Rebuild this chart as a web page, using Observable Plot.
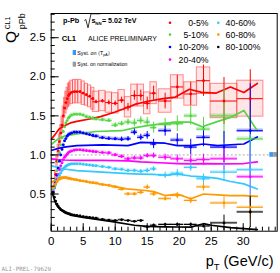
<!DOCTYPE html>
<html><head><meta charset="utf-8">
<script src="https://cdn.jsdelivr.net/npm/d3@7"></script>
<script src="https://cdn.jsdelivr.net/npm/@observablehq/plot@0.6"></script>
<style>body{margin:0;background:#fff}svg{display:block}</style>
</head><body><div id="chart"></div>
<script>
// pT bin centres and half widths (GeV/c)
const pt = [0.3,0.5,0.7,0.9,1.1,1.3,1.5,1.7,1.9,2.1,2.3,2.5,2.7,2.9,3.2,3.6,4.0,
  4.5,5,5.5,6,6.5,7,8,9,10,11,12,13,14,15,16,17.8,19.7,21.8,23.8,27,31.1];
const ptHalf = [0.1,0.1,0.1,0.1,0.1,0.1,0.1,0.1,0.1,0.1,0.1,0.1,0.1,0.1,0.2,0.2,0.2,
  0.25,0.25,0.25,0.25,0.25,0.5,0.5,0.5,0.5,0.5,0.5,0.5,0.5,0.5,0.5,1,1,1,1.05,2.1,2.05];

const centrality = ["0-5%","5-10%","10-20%","20-40%","40-60%","60-80%","80-100%"];
const colors = ["#ff0000","#55d545","#0000ff","#ff00ff","#33c8ff","#ff9900","#000000"];

const q0_5 = [0.52,0.6,0.75,0.92,1.05,1.17,1.28,1.38,1.5,1.6,1.67,1.72,1.76,1.78,1.8,1.81,1.81,
  1.81,1.79,1.77,1.75,1.72,1.68,1.69,1.67,1.66,1.70,1.61,1.76,1.76,1.66,1.79,1.69,1.87,1.78,1.95,1.69,1.72];
const q5_10 = [0.52,0.58,0.68,0.8,0.92,1.03,1.13,1.22,1.3,1.36,1.41,1.44,1.47,1.49,1.51,1.52,1.52,
  1.52,1.51,1.49,1.48,1.47,1.46,1.45,1.44,1.38,1.40,1.42,1.41,1.44,1.42,1.35,1.39,1.40,1.50,1.33,1.50,1.205];
const q10_20 = [0.53,0.58,0.65,0.74,0.83,0.92,1.0,1.07,1.13,1.18,1.21,1.24,1.26,1.27,1.28,1.29,1.29,
  1.29,1.28,1.27,1.26,1.25,1.24,1.22,1.21,1.205,1.20,1.205,1.29,1.225,1.25,1.14,1.31,1.19,1.10,1.225,1.10,1.31];
const q20_40 = [0.55,0.58,0.63,0.69,0.75,0.81,0.86,0.9,0.94,0.97,0.99,1.01,1.03,1.04,1.05,1.06,1.065,
  1.065,1.06,1.055,1.05,1.045,1.04,1.03,1.025,1.0,0.98,0.95,0.96,0.96,0.99,0.99,0.97,0.95,0.93,0.94,0.95,0.72];
const q40_60 = [0.56,0.58,0.62,0.66,0.7,0.74,0.77,0.8,0.82,0.84,0.855,0.865,0.875,0.88,0.885,0.885,0.885,
  0.885,0.88,0.875,0.87,0.865,0.86,0.85,0.84,0.82,0.815,0.80,0.80,0.79,0.80,0.82,0.74,0.765,0.84,0.695,0.78,0.81];
const q60_80 = [0.58,0.6,0.63,0.66,0.68,0.69,0.7,0.705,0.71,0.71,0.71,0.705,0.7,0.7,0.69,0.685,0.68,
  0.67,0.665,0.66,0.65,0.645,0.64,0.62,0.61,0.59,0.56,0.50,0.50,0.52,0.587,0.50,0.44,0.48,0.417,0.59,0.385,0.33];
const q80_100 = [0.52,0.46,0.41,0.37,0.34,0.32,0.3,0.29,0.28,0.27,0.26,0.255,0.25,0.245,0.235,0.23,0.225,
  0.22,0.21,0.205,0.2,0.195,0.19,0.175,0.165,0.16,0.17,0.16,0.15,0.16,0.08,0.10,0.11,0.11,0.11,0.09,0.13,0.27];

// statistical errors for pT >= 4.5 (below that they are smaller than the markers)
const stat0_5 = [0.01,0.01,0.01,0.015,0.015,0.02,0.02,0.03,0.03,0.04,0.05,0.06,0.07,0.08,0.09,0.1,0.15,0.15,0.2,0.3,0.37];
const stat5_10 = [0.01,0.01,0.01,0.01,0.015,0.015,0.02,0.02,0.03,0.03,0.04,0.05,0.05,0.06,0.07,0.08,0.1,0.12,0.15,0.35,0.4];
const stat10_20 = [0.01,0.01,0.01,0.01,0.01,0.015,0.015,0.02,0.02,0.03,0.03,0.04,0.04,0.05,0.06,0.07,0.08,0.1,0.12,0.2,0.6];
const stat20_40 = [0.005,0.005,0.005,0.01,0.01,0.01,0.01,0.015,0.015,0.02,0.02,0.025,0.03,0.03,0.035,0.04,0.05,0.06,0.07,0.15,0.35];
const stat40_60 = [0.005,0.005,0.005,0.01,0.01,0.01,0.01,0.01,0.015,0.015,0.02,0.02,0.025,0.03,0.03,0.04,0.05,0.05,0.06,0.12,0.45];
const stat60_80 = [0.005,0.005,0.005,0.005,0.01,0.01,0.01,0.01,0.01,0.015,0.015,0.02,0.02,0.03,0.03,0.03,0.04,0.04,0.05,0.08,0.15];
const stat80_100 = [0.003,0.003,0.003,0.003,0.003,0.005,0.005,0.005,0.005,0.01,0.01,0.01,0.01,0.01,0.015,0.015,0.02,0.02,0.02,0.1,0.2];

// systematic uncertainty (boxes)
const sys0_5 = [0.03,0.04,0.05,0.07,0.08,0.09,0.1,0.11,0.12,0.13,0.14,0.14,0.15,0.15,0.15,0.15,0.15,
  0.15,0.15,0.14,0.14,0.14,0.13,0.13,0.13,0.13,0.13,0.13,0.14,0.14,0.14,0.14,0.15,0.15,0.15,0.17,0.22,0.23];
const sysOther = [0.025,0.022,0.02,0.018,0.015,0.012];

// model curves [pT, Q]
const model0_5 = [[0.1,1.21],[0.6,1.26],[1.2,1.33],[2,1.37],[3,1.41],[4,1.43],[6,1.46],[7.7,1.49],[10,1.55],[12,1.61],[13.2,1.65],[15.3,1.69],[17.5,1.72],[19.4,1.74],[21.6,1.84],[23.5,1.80],[25.7,1.79],[28,1.87],[30.1,1.80],[32.2,1.915]];
const model5_10 = [[0.1,1.14],[1,1.2],[2,1.24],[4,1.27],[7,1.30],[11,1.31],[13.2,1.35],[15,1.375],[19.4,1.42],[21.8,1.42],[23.6,1.36],[25.7,1.42],[28,1.48],[30.1,1.57],[32.2,1.31]];
const model10_20 = [[0.1,1.06],[1,1.08],[2,1.10],[4,1.12],[8,1.13],[12,1.12],[14,1.16],[17.8,1.15],[19.7,1.12],[21.8,1.12],[23.8,1.14],[26,1.12],[28,1.13],[30.1,1.14],[32.2,1.23]];
const model20_40 = [[0.1,0.95],[1,0.94],[2,0.935],[4,0.93],[8,0.93],[12,0.925],[14,0.91],[17,0.90],[19.7,0.89],[21.8,0.885],[23.8,0.89],[27,0.885],[30.1,0.89],[32.2,0.91]];
const model40_60 = [[0.1,0.86],[1,0.84],[2,0.82],[4,0.80],[8,0.78],[12,0.76],[14,0.755],[16,0.75],[17.8,0.74],[19.7,0.755],[21.8,0.73],[23.8,0.72],[26,0.70],[28,0.66],[30.1,0.63],[32.2,0.565]];
const model60_80 = [[0.1,0.65],[1.2,0.715],[3,0.70],[5.8,0.65],[9,0.61],[11.8,0.566],[14.7,0.545],[16,0.53],[17.8,0.48],[19.7,0.50],[21.8,0.44],[23.8,0.50],[26,0.49],[28,0.48],[30.1,0.48],[32.2,0.47]];
const model80_100 = [[0.15,0.52],[0.6,0.40],[1,0.34],[2,0.27],[3,0.23],[5,0.20],[9.3,0.15],[13,0.10],[15,0.085],[17.8,0.08],[19.7,0.078],[21.8,0.076],[23.8,0.12],[25,0.10],[28,0.07],[32.2,0.043]];

const xMajor = [0,5,10,15,20,25,30];
const yMajor = [0.5,1,1.5,2,2.5];

const values = [q0_5,q5_10,q10_20,q20_40,q40_60,q60_80,q80_100];
const stats = [stat0_5,stat5_10,stat10_20,stat20_40,stat40_60,stat60_80,stat80_100];
const models = [model0_5,model5_10,model10_20,model20_40,model40_60,model60_80,model80_100];
const nLow = pt.length - stat0_5.length;

const pts = [];
values.forEach((vals, s) => vals.forEach((v, i) => {
  const e = i < nLow ? 0 : stats[s][i - nLow];
  const sy = s === 0 ? sys0_5[i] : sysOther[s - 1] ?? 0.01;
  pts.push({s, color: colors[s], x: pt[i], x1: pt[i]-ptHalf[i], x2: pt[i]+ptHalf[i],
    y: v, e1: v - e, e2: v + e, s1: v - sy, s2: v + sy});
}));
const curves = [];
models.forEach((m, s) => m.forEach(([x, y]) => curves.push({s, color: colors[s], x, y})));

const xMinor = d3.range(0, 36, 1);
const yMinor = d3.range(0.1, 2.81, 0.1);
const frameW = 280 - 50.7 - 3.3, frameH = 273 - 13 - 42.3;

const plot = Plot.plot({
  width: 280, height: 273,
  marginTop: 13, marginRight: 3.3, marginBottom: 42.3, marginLeft: 50.7,
  x: {domain: [0, 35.31]},
  y: {domain: [0.024, 2.81]},
  color: {type: "identity"},
  style: {fontFamily: "'Liberation Sans', Arial, sans-serif", fontSize: "11.5px", color: "#000", background: "#fff"},
  marks: [
    Plot.ruleY([1], {stroke: "#aaa", strokeDasharray: "2,2", strokeWidth: 1}),
    // systematic boxes
    Plot.rect(pts.filter(d => d.s !== 0), {x1: "x1", x2: "x2", y1: "s1", y2: "s2", fill: "color", fillOpacity: 0.3}),
    Plot.rect(pts.filter(d => d.s === 0), {x1: "x1", x2: "x2", y1: "s1", y2: "s2", fill: "#ff0000", fillOpacity: 0.1, stroke: "#ff3333", strokeOpacity: 0.55, strokeWidth: 1}),
    // normalisation uncertainties
    Plot.rect([0], {x1: 34.16, x2: 34.78, y1: 0.97, y2: 1.03, fill: "#3399ff"}),
    Plot.rect([0], {x1: 34.78, x2: 35.31, y1: 0.97, y2: 1.03, fill: "#999"}),
    // model curves
    Plot.line(curves, {x: "x", y: "y", z: "s", stroke: "color", strokeWidth: 1.7}),
    // error bars
    Plot.ruleY(pts, {x1: "x1", x2: "x2", y: "y", stroke: "color", strokeWidth: 1}),
    Plot.ruleX(pts, {x: "x", y1: "e1", y2: "e2", stroke: "color", strokeWidth: 1}),
    Plot.dot(pts, {x: "x", y: "y", fill: "color", r: 1.4}),
    // ticks
    Plot.ruleX(xMinor, {insetTop: frameH - 4, stroke: "#000"}),
    Plot.ruleX(xMajor, {insetTop: frameH - 7.5, stroke: "#000"}),
    Plot.ruleY(yMinor, {insetRight: frameW - 4, stroke: "#000"}),
    Plot.ruleY(yMajor, {insetRight: frameW - 8, stroke: "#000"}),
    Plot.axisX({ticks: xMajor, tickSize: 0, tickPadding: 6, label: null, fontSize: 11.5}),
    Plot.axisY({ticks: yMajor, tickSize: 0, tickPadding: 5.5, label: null, fontSize: 11.5}),
    Plot.frame({stroke: "#000", strokeWidth: 1})
  ]
});
document.getElementById("chart").append(plot);

// annotations
const svg = d3.select(plot);
const g = svg.append("g").attr("font-family", "'Liberation Sans', Arial, sans-serif").attr("fill", "#000").attr("text-anchor", "start");
// y label Q_pPb^CL1
g.append("text").attr("transform", "translate(15.8,43) rotate(-90)").attr("font-size", 15.5).text("Q");
g.append("text").attr("transform", "translate(10.2,29.3) rotate(-90)").attr("font-size", 6.8).text("CL1");
g.append("text").attr("transform", "translate(24.8,29.3) rotate(-90)").attr("font-size", 9).text("pPb");
// x label
const xl = g.append("text").attr("x", 273.5).attr("y", 266).attr("text-anchor", "end").attr("font-size", 14.5);
xl.append("tspan").text("p");
xl.append("tspan").attr("font-size", 9.5).attr("dy", 4).text("T");
xl.append("tspan").attr("dy", -4).text(" (GeV/c)");
// header
g.append("text").attr("x", 63).attr("y", 23.3).attr("font-size", 7.3).attr("font-weight", "bold").text("p-Pb");
g.append("path").attr("d", "M84.3,20.5 L85.8,19.5 L88,27.8 L91,13.8 L100.5,13.8").attr("fill", "none").attr("stroke", "#000").attr("stroke-width", 0.8);
g.append("text").attr("x", 91.6).attr("y", 23.3).attr("font-size", 7.3).attr("font-weight", "bold").text("s");
g.append("text").attr("x", 95.3).attr("y", 25.3).attr("font-size", 4.3).attr("font-weight", "bold").text("NN");
g.append("text").attr("x", 102).attr("y", 23.3).attr("font-size", 7.1).attr("font-weight", "bold").text("= 5.02 TeV");
g.append("text").attr("x", 61.7).attr("y", 40.8).attr("font-size", 7.6).attr("font-weight", "bold").text("CL1");
g.append("text").attr("x", 88).attr("y", 40.5).attr("font-size", 6.95).text("ALICE PRELIMINARY");
g.append("rect").attr("x", 72.7).attr("y", 50).attr("width", 3.3).attr("height", 5).attr("fill", "#3399ff");
const st = g.append("text").attr("x", 77.3).attr("y", 54.6).attr("font-size", 5.3);
st.append("tspan").text("Syst. on \u27E8T");
st.append("tspan").attr("font-size", 3.6).attr("dy", 1.2).text("pA");
st.append("tspan").attr("dy", -1.2).text("\u27E9");
g.append("rect").attr("x", 72.7).attr("y", 61.7).attr("width", 3.3).attr("height", 5).attr("fill", "#999");
g.append("text").attr("x", 77.3).attr("y", 66.2).attr("font-size", 5.1).text("Syst. on normalization");
// legend
const legY = [22.7, 34.6, 47, 59.6];
centrality.forEach((c, i) => {
  const col = i < 4 ? 0 : 1, row = i < 4 ? i : i - 4;
  const cx = col === 0 ? 170 : 218.3;
  g.append("circle").attr("cx", cx).attr("cy", legY[row]).attr("r", 1.3).attr("fill", colors[i]);
  g.append("text").attr("x", col === 0 ? 208.5 : 225.6).attr("y", legY[row] + 3.1)
    .attr("text-anchor", col === 0 ? "end" : "start").attr("font-size", 8.7).text(c);
});
g.append("text").attr("x", 1.5).attr("y", 271).attr("font-size", 5.9).attr("font-family", "'DejaVu Sans Mono', monospace").attr("fill", "#999").text("ALI-PREL-79629");
</script>
</body></html>
